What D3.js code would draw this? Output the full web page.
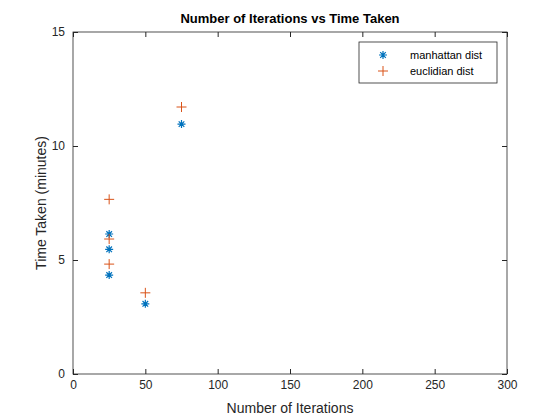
<!DOCTYPE html>
<html><head><meta charset="utf-8">
<script src="https://cdn.jsdelivr.net/npm/d3@7"></script>
<style>body{margin:0;background:#fff}svg{font-family:Arial,"Liberation Sans",sans-serif}</style>
</head><body>
<script>
// data
var iters = [25, 25, 25, 50, 75];
var manhattan = [6.14, 5.47, 4.34, 3.08, 10.96];
var euclidian = [7.66, 5.92, 4.82, 3.56, 11.71];
var xTicks = [0, 50, 100, 150, 200, 250, 300];
var yTicks = [0, 5, 10, 15];

var width = 560, height = 420;
var m = {left: 73, right: 53, top: 32, bottom: 46};
var svg = d3.select("body").append("svg").attr("width", width).attr("height", height);
var x = d3.scaleLinear().domain([0, 300]).range([m.left, width - m.right]);
var y = d3.scaleLinear().domain([0, 15]).range([height - m.bottom, m.top]);

svg.append("rect").attr("x", m.left).attr("y", m.top)
   .attr("width", x(300) - x(0)).attr("height", y(0) - y(15))
   .attr("fill", "#fff").attr("stroke", "#262626").attr("stroke-width", 0.8);

var xa = svg.append("g").attr("transform", "translate(0," + y(0) + ")")
   .call(d3.axisBottom(x).tickValues(xTicks).tickSize(-5).tickPadding(6));
var xt = svg.append("g").attr("transform", "translate(0," + y(15) + ")")
   .call(d3.axisTop(x).tickValues(xTicks).tickSize(-5).tickFormat(""));
var ya = svg.append("g").attr("transform", "translate(" + x(0) + ",0)")
   .call(d3.axisLeft(y).tickValues(yTicks).tickSize(-5).tickPadding(8));
var yr = svg.append("g").attr("transform", "translate(" + x(300) + ",0)")
   .call(d3.axisRight(y).tickValues(yTicks).tickSize(-5).tickFormat(""));
[xa, xt, ya, yr].forEach(function(g){
    g.select(".domain").remove();
    g.selectAll("line").attr("stroke", "#262626");
    g.selectAll("text").attr("fill", "#262626").attr("font-size", 12);
});

svg.append("text").attr("x", (x(0) + x(300)) / 2).attr("y", 23)
   .attr("text-anchor", "middle").attr("font-size", 13).attr("font-weight", "bold")
   .text("Number of Iterations vs Time Taken");
svg.append("text").attr("x", (x(0) + x(300)) / 2).attr("y", 413)
   .attr("text-anchor", "middle").attr("font-size", 14).attr("fill", "#262626")
   .text("Number of Iterations");
svg.append("text").attr("transform", "translate(46," + (y(7.5)) + ") rotate(-90)")
   .attr("text-anchor", "middle").attr("font-size", 14).attr("fill", "#262626")
   .text("Time Taken (minutes)");

var blue = "#0072BD", orange = "#D95319";
function star(g, cx, cy){
    var r = 4;
    g.append("path").attr("d",
        "M" + (cx - r) + "," + cy + "h" + 2 * r +
        "M" + cx + "," + (cy - r) + "v" + 2 * r +
        "M" + (cx - r * .7) + "," + (cy - r * .7) + "l" + 1.4 * r + "," + 1.4 * r +
        "M" + (cx - r * .7) + "," + (cy + r * .7) + "l" + 1.4 * r + "," + -1.4 * r)
     .attr("stroke", blue).attr("stroke-width", 1.2).attr("fill", "none");
}
function plus(g, cx, cy){
    var r = 5;
    g.append("path").attr("d",
        "M" + (cx - r) + "," + cy + "h" + 2 * r + "M" + cx + "," + (cy - r) + "v" + 2 * r)
     .attr("stroke", orange).attr("stroke-width", 1).attr("fill", "none");
}
var pts = svg.append("g");
iters.forEach(function(v, i){ star(pts, x(v), y(manhattan[i])); });
iters.forEach(function(v, i){ plus(pts, x(v), y(euclidian[i])); });

var lg = svg.append("g");
lg.append("rect").attr("x", 359).attr("y", 42).attr("width", 138).attr("height", 41)
  .attr("fill", "#fff").attr("stroke", "#262626").attr("stroke-width", 0.8);
star(lg, 383, 55); plus(lg, 383, 71);
lg.append("text").attr("x", 410).attr("y", 59).attr("font-size", 11).text("manhattan dist");
lg.append("text").attr("x", 410).attr("y", 75).attr("font-size", 11).text("euclidian dist");
</script>
</body></html>
